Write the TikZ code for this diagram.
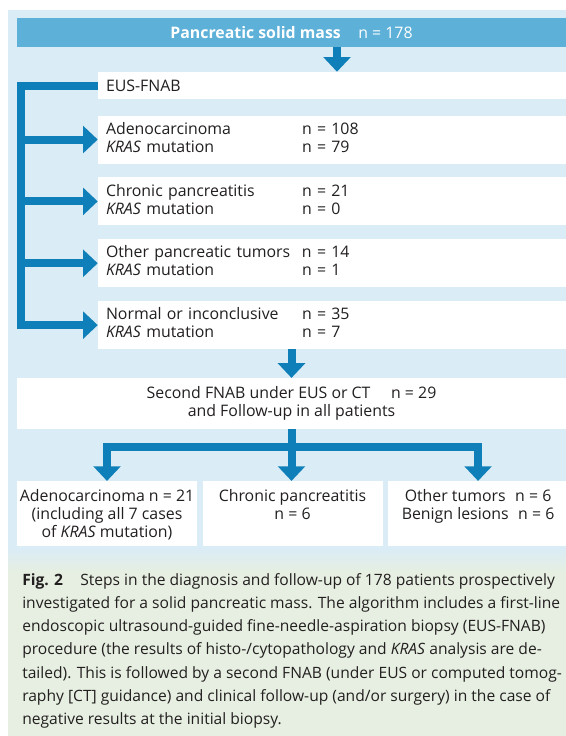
\documentclass[tikz,border=0pt]{standalone}
\usepackage{fontspec}
\setmainfont{Open Sans}
\usetikzlibrary{arrows.meta,positioning,calc}
\definecolor{panelblue}{HTML}{DAECF6}
\definecolor{bannerblue}{HTML}{5DB0D8}
\definecolor{arrowblue}{HTML}{0E7FB8}
\definecolor{capgreen}{HTML}{E6EFE1}
\definecolor{inkgray}{HTML}{231F20}

\begin{document}
\begin{tikzpicture}[
  x=0.75pt, y=-0.75pt,
  font=\fontsize{11.9}{13.5}\selectfont, text=inkgray,
  >={Triangle[width=20pt,length=11pt]},
  banner/.style={rectangle, fill=bannerblue, text=white, inner sep=0pt,
                 minimum width=411.75pt, minimum height=21.75pt},
  plainbox/.style={rectangle, fill=white, inner xsep=6pt, inner ysep=0pt,
                   align=left, minimum width=351pt, text width=339pt},
  resbox/.style={plainbox, minimum height=36pt},
  widebox/.style={rectangle, fill=white, align=center, inner sep=0pt,
                  minimum width=411.75pt, minimum height=38.25pt},
  endbox/.style={rectangle, fill=white, inner sep=0pt,
                 minimum width=135pt, minimum height=48.75pt},
  endtext/.style={anchor=north, align=center, inner sep=0pt},
  link/.style={draw=arrowblue, line width=6pt, line join=miter},
  flow/.style={link, ->},
]
\useasboundingbox (0,0) rectangle (566,736);
% panels
\fill[white] (0,0) rectangle (566,736);
\fill[panelblue] (8,10) rectangle (566,553);
\fill[capgreen] (8,553) rectangle (566,736);
\shade[top color=panelblue, bottom color=capgreen] (8,548) rectangle (566,572);

% Row 1: mass and first biopsy
\node[banner] (mass) at (291.5,32.5)
  {\bfseries Pancreatic solid mass\hspace{1.1em}\mdseries n = 178};
\node[plainbox, minimum height=20.25pt] (eus) at (332,85.5) {EUS-FNAB};

% Results of the first biopsy
\node[resbox, below=12pt of eus] (adeno)
  {\begin{tabular}{@{}p{147pt}@{}l@{}}
   Adenocarcinoma & n = 108\\ \textit{KRAS} mutation & n = 79\end{tabular}};
\node[resbox, below=10pt of adeno] (chronic)
  {\begin{tabular}{@{}p{147pt}@{}l@{}}
   Chronic pancreatitis & n = 21\\ \textit{KRAS} mutation & n = 0\end{tabular}};
\node[resbox, below=10pt of chronic] (other)
  {\begin{tabular}{@{}p{147pt}@{}l@{}}
   Other pancreatic tumors & n = 14\\ \textit{KRAS} mutation & n = 1\end{tabular}};
\node[resbox, below=10pt of other] (normal)
  {\begin{tabular}{@{}p{147pt}@{}l@{}}
   Normal or inconclusive & n = 35\\ \textit{KRAS} mutation & n = 7\end{tabular}};

% Second biopsy and follow-up
\node[widebox, anchor=north] (second) at ($(normal.south -| mass.south)+(0,28.5)$)
  {Second FNAB under EUS or CT\hspace{1.3em}n = 29\\and Follow-up in all patients};

% Row 3: final diagnoses
\node[endbox, anchor=north west] (lastadeno) at ($(second.south west)+(0,51.5)$) {};
\node[endbox, right=3.75pt of lastadeno] (lastchronic) {};
\node[endbox, right=3.75pt of lastchronic] (lastother) {};
\node[endtext] (lastadenotxt) at ([yshift=-6pt]lastadeno.north)
  {Adenocarcinoma n = 21\\(including all 7 cases\\of \textit{KRAS} mutation)};
\node[endtext] (lastchronictxt) at ([yshift=-6pt]lastchronic.north)
  {Chronic pancreatitis\\n = 6};
\node[endtext] (lastothertxt) at ([yshift=-6pt]lastother.north)
  {Other tumors\hspace{0.6em}n = 6\\Benign lesions\hspace{0.6em}n = 6};

\draw[flow] ([xshift=3.75pt]mass.south -| eus.north) -- ([xshift=3.75pt]eus.north);
\draw[flow] (eus.west) -- ++(-77,0) coordinate (spine) |- (normal.west);
\foreach \res in {adeno,chronic,other}
  \draw[flow] (spine |- \res.west) -- (\res.west);
\draw[flow] (normal.south -| second.north) -- (second.north);
\draw[link] (second.south) -- ++(0,17.5) coordinate (fork);
\draw[flow] (fork) -| (lastadeno.north);
\draw[flow] (fork) -| (lastother.north);
\draw[flow] (second.south) -- (second.south |- lastchronic.north);

% caption
\node[anchor=north west, align=left, inner sep=0pt,
      font=\fontsize{11.7}{17.4}\selectfont] (caption) at (22,573)
  {\textbf{Fig. 2}\hspace{1.1em}Steps in the diagnosis and follow-up of 178 patients prospectively\\
   investigated for a solid pancreatic mass. The algorithm includes a first-line\\
   endoscopic ultrasound-guided fine-needle-aspiration biopsy (EUS-FNAB)\\
   procedure (the results of histo-/cytopathology and \textit{KRAS} analysis are de-\\
   tailed). This is followed by a second FNAB (under EUS or computed tomog-\\
   raphy [CT] guidance) and clinical follow-up (and/or surgery) in the case of\\
   negative results at the initial biopsy.};
\end{tikzpicture}
\end{document}
